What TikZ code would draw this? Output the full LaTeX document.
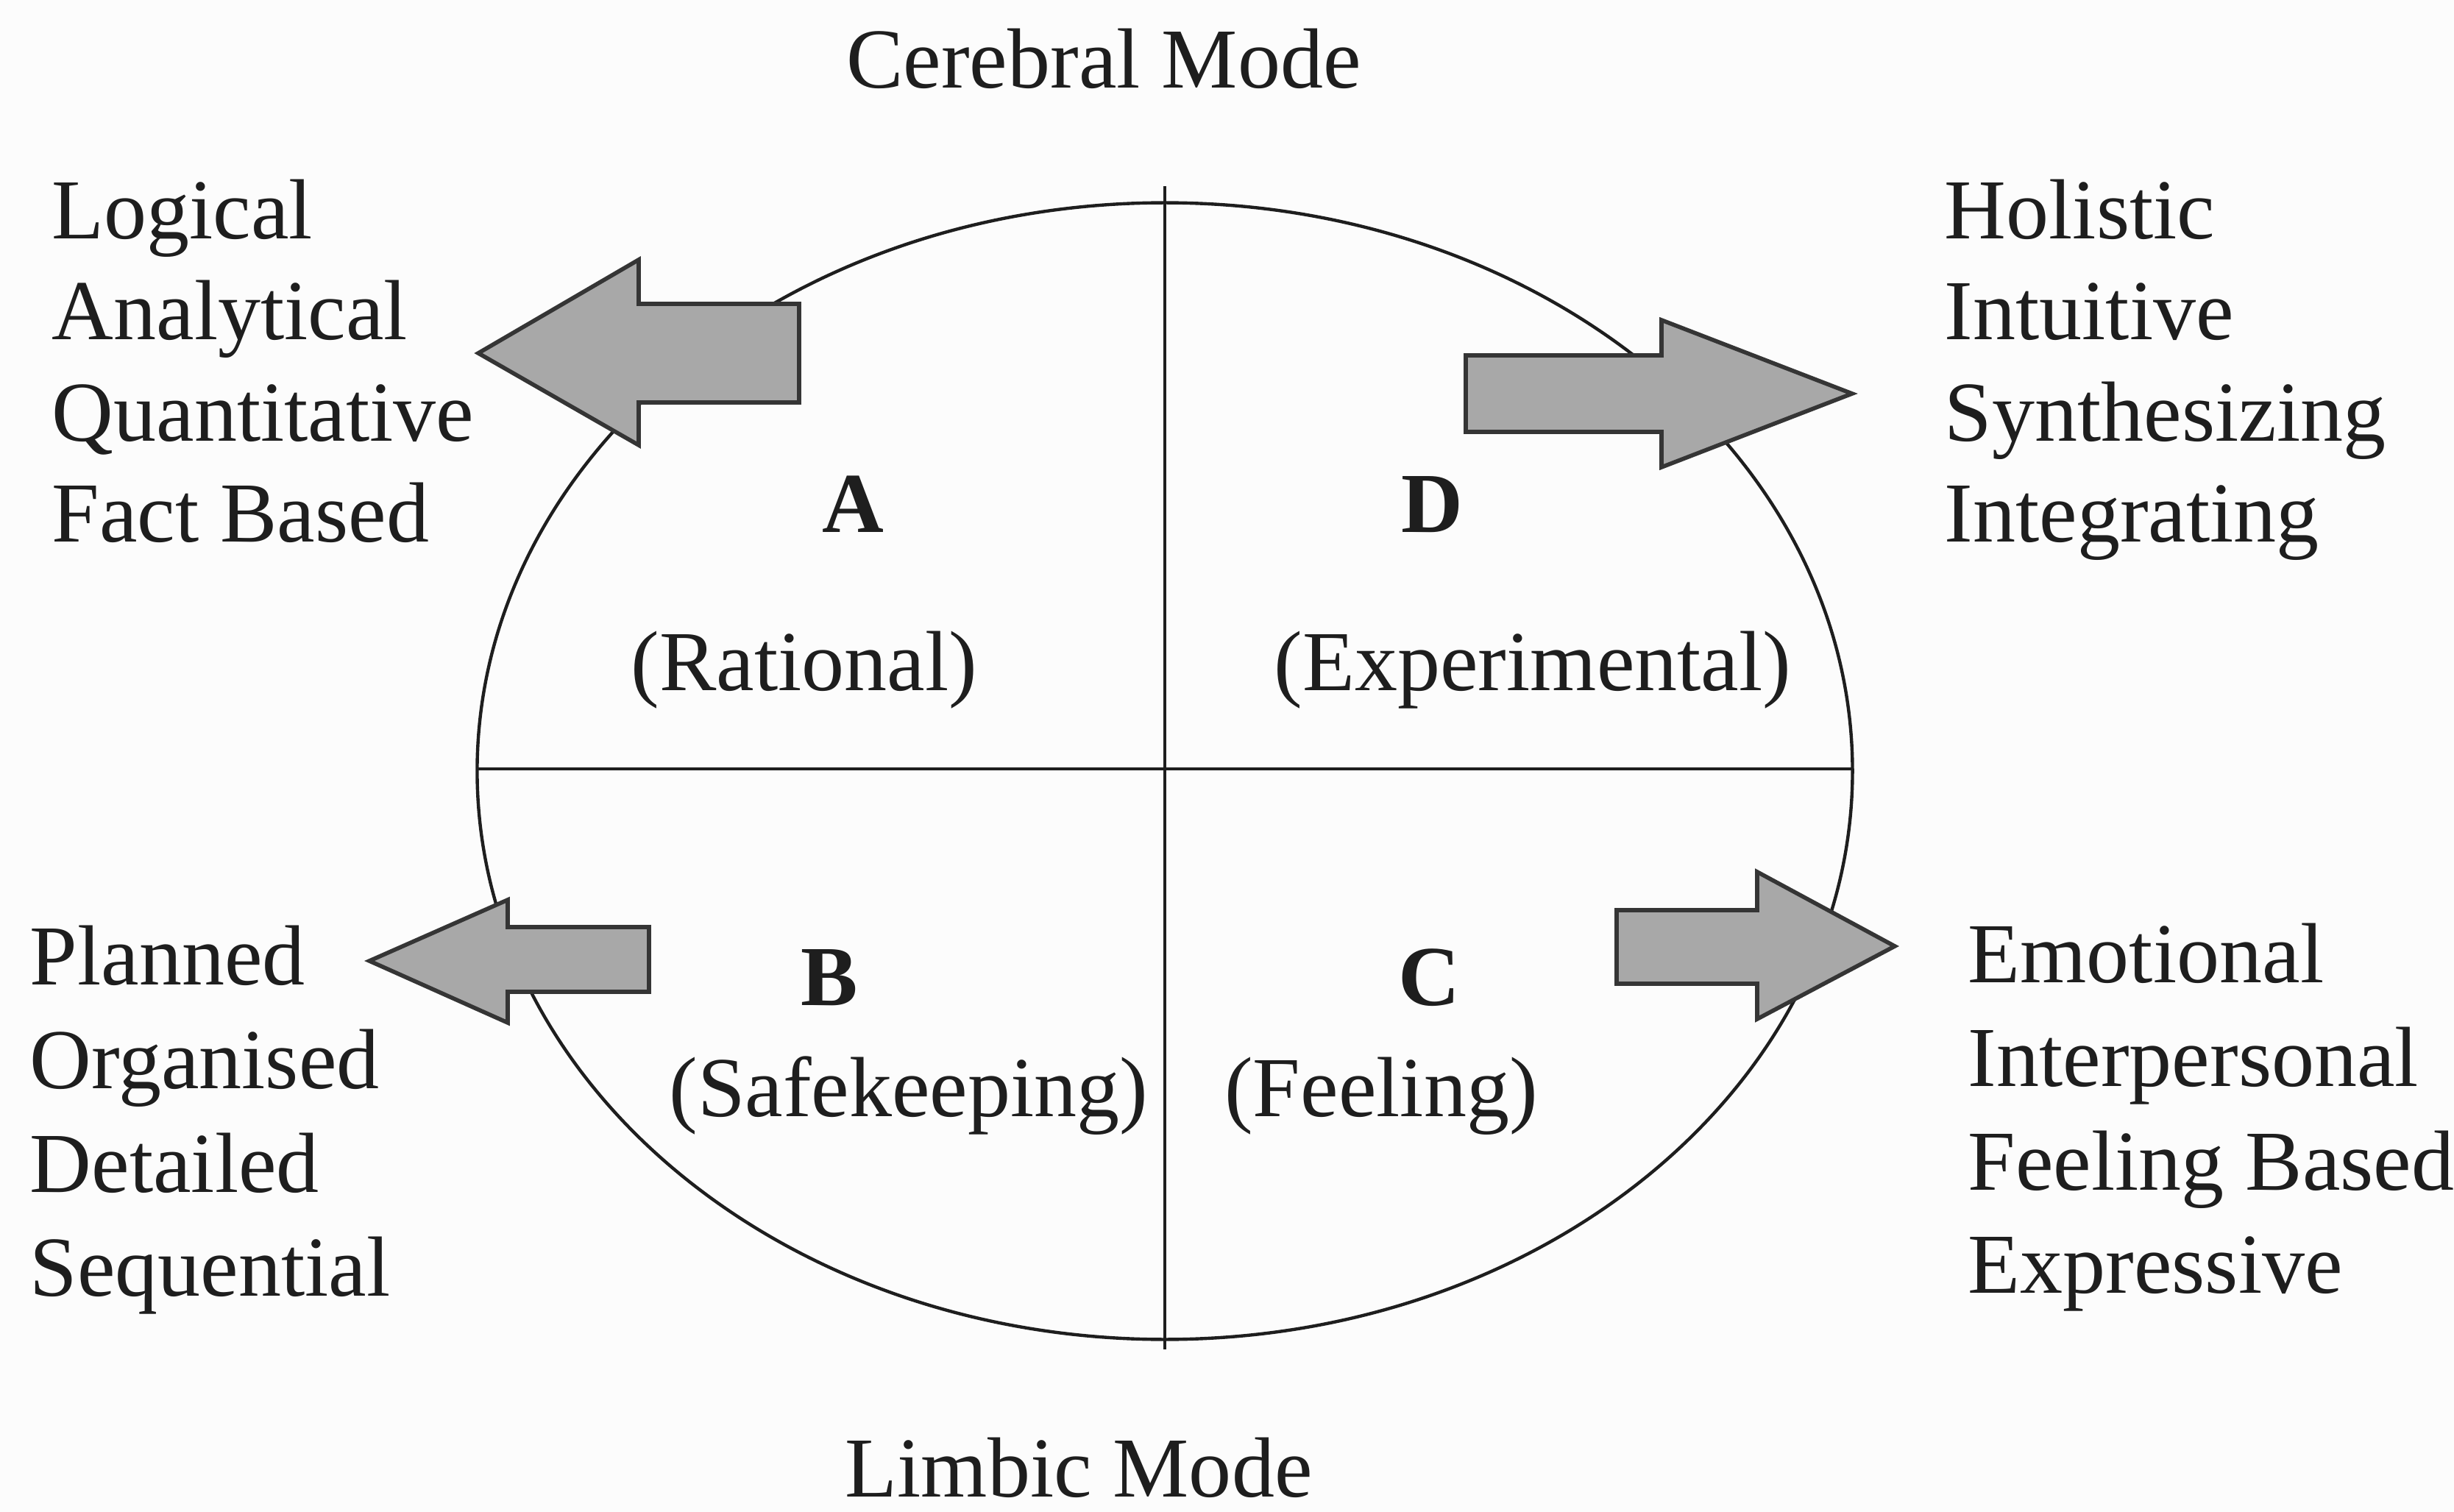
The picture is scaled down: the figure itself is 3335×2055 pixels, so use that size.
\documentclass[tikz,border=0pt]{standalone}
\usepackage{fontspec}
\setmainfont{Liberation Serif}
\definecolor{ink}{HTML}{1E1E1E}
\definecolor{arrowfill}{HTML}{A8A8A8}
\definecolor{bg}{HTML}{FCFCFC}
\begin{document}
\begin{tikzpicture}[x=0.01cm,y=-0.01cm,
  txt/.style={inner sep=0pt, anchor=base west, text=ink, font=\fontsize{33}{39}\selectfont},
  ctxt/.style={inner sep=0pt, anchor=base, text=ink, font=\fontsize{33}{39}\selectfont},
  btxt/.style={inner sep=0pt, anchor=base, text=ink, font=\fontsize{33}{39}\selectfont\bfseries},
  thin line/.style={draw=ink, line width=1.25pt},
  fatarrow/.style={draw=ink!90, fill=arrowfill, line width=1.6pt, line join=miter}]
\fill[bg] (0,0) rectangle (3335,2055);
\useasboundingbox (0,0) rectangle (3335,2055);

% ellipse and quadrant lines
\coordinate (ctr) at (1583,1048);
\coordinate (vtop) at (1583,253);
\coordinate (vbot) at (1583,1834);
\coordinate (hleft) at (649,1045);
\coordinate (hright) at (2516,1045);
\draw[thin line] (ctr) ellipse [x radius=9.34cm, y radius=7.72cm];
\draw[thin line] (vtop) -- (vbot);
\draw[thin line] (hleft) -- (hright);

% block arrows
\draw[fatarrow] (650,480) -- (868,353) -- (868,413) -- (1086,413) -- (1086,547) -- (868,547) -- (868,605) -- cycle;
\draw[fatarrow] (1992,483) -- (2258,483) -- (2258,435) -- (2517,535) -- (2258,635) -- (2258,587) -- (1992,587) -- cycle;
\draw[fatarrow] (502,1306) -- (690,1223) -- (690,1260) -- (882,1260) -- (882,1348) -- (690,1348) -- (690,1390) -- cycle;
\draw[fatarrow] (2197,1237) -- (2388,1237) -- (2388,1185) -- (2575,1286) -- (2388,1385) -- (2388,1337) -- (2197,1337) -- cycle;

% titles
\node[ctxt] (cer) at (1500,120) {Cerebral Mode};
\node[ctxt, text depth=0pt] (lim) at (1466,2034) {Limbic Mode};

% quadrant labels
\node[btxt] (qa) at (1159,723) {A};
\node[btxt] (qd) at (1946,723) {D};
\node[btxt] (qb) at (1127,1366) {B};
\node[btxt] (qc) at (1942,1366) {C};
\node[ctxt] (ra) at (1093,938) {(Rational)};
\node[ctxt] (rd) at (2083,938) {(Experimental)};
\node[ctxt] (rb) at (1235,1517) {(Safekeeping)};
\node[ctxt] (rc) at (1877,1517) {(Feeling)};

% left top column
\node[txt] (tl1) at (70,325) {Logical};
\node[txt] (tl2) at (70,462) {Analytical};
\node[txt] (tl3) at (70,600) {Quantitative};
\node[txt] (tl4) at (70,737) {Fact Based};

% right top column
\node[txt] (tr1) at (2642,325) {Holistic};
\node[txt] (tr2) at (2642,462) {Intuitive};
\node[txt] (tr3) at (2642,600) {Synthesizing};
\node[txt] (tr4) at (2642,737) {Integrating};

% left bottom column
\node[txt] (bl1) at (40,1338) {Planned};
\node[txt] (bl2) at (40,1479) {Organised};
\node[txt] (bl3) at (40,1620) {Detailed};
\node[txt] (bl4) at (40,1761) {Sequential};

% right bottom column
\node[txt] (br1) at (2674,1335) {Emotional};
\node[txt] (br2) at (2674,1476) {Interpersonal};
\node[txt] (br3) at (2674,1617) {Feeling Based};
\node[txt] (br4) at (2674,1757) {Expressive};
\end{tikzpicture}
\end{document}
